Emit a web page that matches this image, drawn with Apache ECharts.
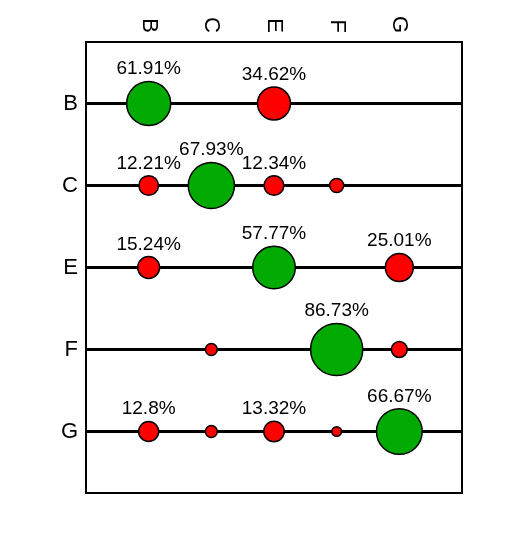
<!DOCTYPE html>
<html>
<head>
<meta charset="utf-8">
<script src="https://cdn.jsdelivr.net/npm/echarts@6/dist/echarts.min.js"></script>
<style>
  html, body { margin: 0; padding: 0; background: #fff; }
  #chart { width: 530px; height: 555px; }
</style>
</head>
<body>
<div id="chart"></div>
<script>
// column / row categories
const categories = ['B', 'C', 'E', 'F', 'G'];
// one array per row, values per column (null = no bubble)
const rowB = [61.91, null, 34.62, null, null];
const rowC = [12.21, 67.93, 12.34, 6.3, null];
const rowE = [15.24, null, 57.77, null, 25.01];
const rowF = [null, 4.5, null, 86.73, 8.0];
const rowG = [12.8, 4.5, 13.32, 3.0, 66.67];
const rows = [rowB, rowC, rowE, rowF, rowG];

const green = '#00aa00';
const red = '#ff0000';
const font = 'Liberation Sans, Arial, sans-serif';

const bubbles = [];
rows.forEach((row, r) => {
  row.forEach((v, c) => {
    if (v == null) return;
    bubbles.push({
      value: [c + 1, r, v],
      itemStyle: { color: r === c ? green : red },
      label: { show: v >= 10 }
    });
  });
});

const chart = echarts.init(document.getElementById('chart'));
chart.setOption({
  animation: false,
  grid: {
    left: 86, top: 42, right: 68, bottom: 62,
    show: true, borderColor: '#000', borderWidth: 2, backgroundColor: 'transparent'
  },
  xAxis: {
    type: 'value',
    position: 'top',
    min: 0, max: 6, interval: 1,
    axisLine: { show: false },
    axisTick: { show: false },
    splitLine: { show: false },
    axisLabel: {
      rotate: -90,
      margin: 9,
      fontSize: 22,
      fontFamily: font,
      color: '#000',
      formatter: v => categories[v - 1] || ''
    }
  },
  yAxis: {
    type: 'value',
    inverse: true,
    min: -0.75, max: 4.75, interval: 0.25,
    axisLine: { show: false },
    axisTick: { show: false },
    splitLine: { show: false },
    axisLabel: {
      margin: 8,
      fontSize: 22,
      fontFamily: font,
      color: '#000',
      formatter: v => Number.isInteger(v) ? (categories[v] || '') : ''
    }
  },
  series: [
    {
      type: 'scatter',
      data: [],
      z: 1,
      markLine: {
        silent: true,
        z: 1,
        symbol: 'none',
        label: { show: false },
        lineStyle: { color: '#000', width: 3, type: 'solid' },
        data: categories.map((_, i) => ({ yAxis: i }))
      }
    },
    {
      type: 'scatter',
      z: 3,
      data: bubbles,
      symbolSize: d => 5.6 * Math.sqrt(d[2]),
      itemStyle: { borderColor: '#000', borderWidth: 1.5, opacity: 1 },
      label: {
        position: 'top',
        distance: 2,
        fontSize: 19,
        fontFamily: font,
        color: '#000',
        formatter: p => p.value[2] + '%'
      }
    }
  ]
});
</script>
</body>
</html>
